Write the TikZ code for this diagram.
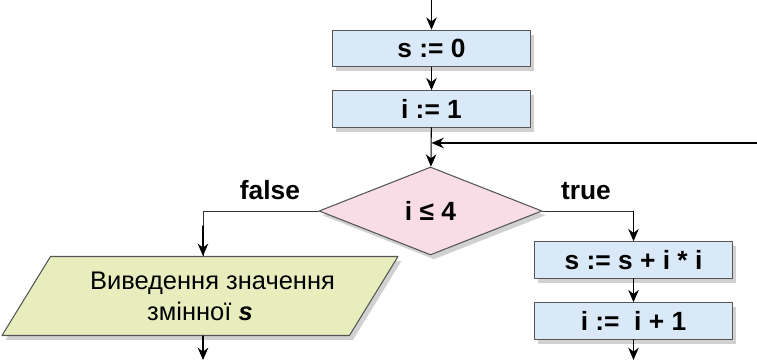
\documentclass[tikz,border=0pt]{standalone}
\usepackage{fontspec}
\setmainfont{Liberation Sans}
\usetikzlibrary{arrows.meta,shapes.geometric,shadows}
\definecolor{boxblue}{HTML}{DAE9F7}
\definecolor{condpink}{HTML}{F8DCE6}
\definecolor{outgreen}{HTML}{E8EDBE}
\definecolor{edgegray}{HTML}{555555}
\begin{document}
\begin{tikzpicture}[line cap=round, line join=round,
    >={Stealth[length=7pt,width=6pt]},
    flow/.style={line width=0.6pt, ->},
    branch/.style={line width=0.5pt, draw=black!80},
    soft/.style={drop shadow={shadow xshift=2pt, shadow yshift=-2.5pt, opacity=0.3, fill=black!60}},
    stepbox/.style={soft, draw=edgegray, line width=0.6pt, fill=boxblue, inner sep=0pt,
      minimum width=3.96cm, minimum height=0.73cm, font=\bfseries\fontsize{15}{17}\selectfont},
    cond/.style={soft, diamond, draw=edgegray, line width=0.6pt, fill=condpink, inner sep=0pt,
      minimum width=4.46cm, minimum height=1.76cm, font=\bfseries\fontsize{15}{17}\selectfont},
    outbox/.style={soft, trapezium, trapezium left angle=45, trapezium right angle=135,
      trapezium stretches body=true, draw=edgegray, line width=0.6pt, fill=outgreen, inner sep=0pt,
      minimum width=7.92cm, minimum height=1.58cm, align=center, font=\fontsize{14.5}{17.5}\selectfont},
    lbl/.style={font=\bfseries\fontsize{15}{17}\selectfont}]
  \useasboundingbox (0,0) rectangle (15.14,7.2);
  % blocks
  \node[stepbox] (s0) at (8.63,6.23) {s := 0};
  \node[stepbox] (i1) at (8.63,5.02) {i := 1};
  \node[cond] (c) at (8.61,2.98) {i ≤ 4};
  \node[outbox] (out) at (4.0,1.28) {\hspace*{0.5cm}Виведення значення\\змінної \textbf{\textit{s}}};
  \node[stepbox] (sum) at (12.67,2.0) {s := s + i * i};
  \node[stepbox] (inc) at (12.67,0.78) {i :=\ \ i + 1};
  \node[lbl] (no) at (5.4,3.4) {false};
  \node[lbl] (yes) at (11.72,3.38) {true};
  % free ends
  \coordinate (start) at (8.63,7.2);
  \coordinate (join) at (8.63,4.34);
  \coordinate (back) at (15.14,4.34);
  \coordinate (endl) at (4.06,0);
  \coordinate (endr) at (12.67,0);
  % connectors
  \draw[flow] (start) -- (s0);
  \draw[flow] (s0) -- (i1);
  \draw[flow] (i1) -- (c);
  \draw[flow, line width=0.9pt] (back) -- (join);
  \draw[branch] (c.west) -| (out.north -| endl);
  \draw[flow] (out.north -| endl) ++(0,0.6) -- (out.north -| endl);
  \draw[branch] (c.east) -| ([yshift=0.6cm]sum.north);
  \draw[flow] ([yshift=0.6cm]sum.north) -- (sum);
  \draw[flow] (sum) -- (inc);
  \draw[flow] (out.south -| endl) -- (endl);
  \draw[flow] (inc) -- (endr);
\end{tikzpicture}
\end{document}
